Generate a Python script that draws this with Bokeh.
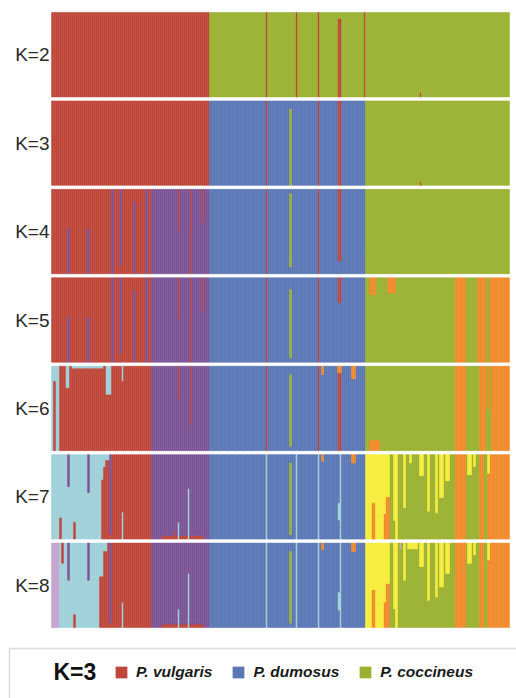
from bokeh.plotting import figure
from bokeh.models import (Range1d, Legend, LegendItem, Label,
                          BoxAnnotation, ColumnDataSource)
from bokeh.core.properties import value
from bokeh.embed import file_html
from bokeh.resources import INLINE

# ---------------- data ----------------
N_INDIVIDUALS = 229
K_VALUES = [2, 3, 4, 5, 6, 7, 8]
K_LABELS = ["K=2", "K=3", "K=4", "K=5", "K=6", "K=7", "K=8"]

CLUSTER_COLORS = {
    "R": "#BE473A",  # red
    "G": "#9AB131",  # green
    "B": "#5B77B4",  # blue
    "P": "#7C5496",  # purple
    "O": "#F08A2A",  # orange
    "L": "#9FD0DA",  # light blue
    "Y": "#F7EC3B",  # yellow
    "V": "#C4A3CF",  # lilac
}

LEGEND_K = 3
LEGEND_TITLE = "K=3"
LEGEND_CLUSTERS = ["R", "B", "G"]
LEGEND_LABELS = ["P. vulgaris", "P. dumosus", "P. coccineus"]

# runs: (first individual, last individual, [(cluster, fraction) bottom -> top]); later runs override
RUNS_K2 = [
    (0, 78, [("R", 1.0)]),
    (79, 228, [("G", 1.0)]),
    (107, 107, [("R", 1.0)]),
    (122, 122, [("R", 1.0)]),
    (133, 133, [("R", 1.0)]),
    (143, 144, [("R", 0.93), ("G", 0.07)]),
    (156, 156, [("R", 1.0)]),
    (184, 184, [("R", 0.05), ("G", 0.95)]),
]
RUNS_K3 = [
    (0, 78, [("R", 1.0)]),
    (79, 156, [("B", 1.0)]),
    (157, 228, [("G", 1.0)]),
    (107, 107, [("R", 1.0)]),
    (119, 119, [("G", 0.9), ("B", 0.1)]),
    (133, 133, [("R", 1.0)]),
    (143, 144, [("R", 1.0)]),
    (184, 184, [("R", 0.04), ("G", 0.96)]),
]
RUNS_K4 = [
    (0, 49, [("R", 1.0)]),
    (50, 78, [("P", 1.0)]),
    (79, 156, [("B", 1.0)]),
    (157, 228, [("G", 1.0)]),
    (8, 8, [("P", 0.53), ("R", 0.47)]),
    (18, 18, [("P", 0.53), ("R", 0.47)]),
    (30, 30, [("P", 1.0)]),
    (34, 34, [("R", 0.1), ("P", 0.9)]),
    (41, 41, [("P", 0.85), ("R", 0.15)]),
    (47, 47, [("P", 1.0)]),
    (63, 63, [("P", 0.5), ("R", 0.5)]),
    (69, 69, [("R", 1.0)]),
    (75, 75, [("P", 0.6), ("R", 0.4)]),
    (107, 107, [("R", 1.0)]),
    (119, 119, [("B", 0.08), ("G", 0.87), ("B", 0.05)]),
    (133, 133, [("R", 1.0)]),
    (143, 144, [("B", 0.15), ("R", 0.85)]),
]
RUNS_K5 = [
    (0, 49, [("R", 1.0)]),
    (50, 78, [("P", 1.0)]),
    (79, 156, [("B", 1.0)]),
    (157, 228, [("G", 1.0)]),
    (8, 8, [("P", 0.53), ("R", 0.47)]),
    (18, 18, [("P", 0.53), ("R", 0.47)]),
    (30, 30, [("P", 1.0)]),
    (34, 34, [("R", 0.1), ("P", 0.9)]),
    (41, 41, [("P", 0.85), ("R", 0.15)]),
    (47, 47, [("P", 1.0)]),
    (63, 63, [("P", 0.5), ("R", 0.5)]),
    (69, 69, [("R", 1.0)]),
    (75, 75, [("P", 0.6), ("R", 0.4)]),
    (107, 107, [("R", 1.0)]),
    (119, 119, [("B", 0.05), ("G", 0.81), ("B", 0.14)]),
    (133, 133, [("R", 1.0)]),
    (143, 144, [("B", 0.7), ("R", 0.3)]),
    (159, 161, [("G", 0.8), ("O", 0.2)]),
    (168, 171, [("G", 0.82), ("O", 0.18)]),
    (202, 206, [("O", 1.0)]),
    (213, 216, [("O", 1.0)]),
    (219, 228, [("O", 1.0)]),
]
RUNS_K6 = [
    (0, 3, [("L", 1.0)]),
    (4, 49, [("R", 1.0)]),
    (50, 78, [("P", 1.0)]),
    (79, 156, [("B", 1.0)]),
    (157, 228, [("G", 1.0)]),
    (1, 1, [("R", 0.82), ("L", 0.18)]),
    (7, 8, [("R", 0.74), ("L", 0.26)]),
    (10, 25, [("R", 0.97), ("L", 0.03)]),
    (27, 29, [("R", 0.66), ("L", 0.34)]),
    (35, 35, [("R", 0.82), ("L", 0.18)]),
    (63, 63, [("P", 0.6), ("R", 0.4)]),
    (69, 69, [("P", 0.3), ("R", 0.7)]),
    (107, 107, [("R", 1.0)]),
    (119, 119, [("B", 0.05), ("G", 0.85), ("B", 0.1)]),
    (133, 133, [("R", 1.0)]),
    (135, 135, [("B", 0.9), ("O", 0.1)]),
    (143, 144, [("R", 0.92), ("O", 0.08)]),
    (150, 151, [("B", 0.85), ("O", 0.15)]),
    (159, 163, [("O", 0.12), ("G", 0.88)]),
    (202, 206, [("O", 1.0)]),
    (214, 216, [("O", 1.0)]),
    (218, 218, [("G", 0.5), ("O", 0.5)]),
    (220, 228, [("O", 1.0)]),
]
RUNS_K7 = [
    (0, 26, [("L", 1.0)]),
    (27, 49, [("R", 1.0)]),
    (50, 78, [("P", 1.0)]),
    (79, 156, [("B", 1.0)]),
    (157, 172, [("Y", 1.0)]),
    (173, 228, [("G", 1.0)]),
    (4, 4, [("R", 0.25), ("L", 0.75)]),
    (8, 8, [("L", 0.62), ("P", 0.38)]),
    (11, 11, [("R", 0.2), ("L", 0.8)]),
    (18, 18, [("L", 0.55), ("P", 0.45)]),
    (25, 25, [("R", 0.7), ("L", 0.3)]),
    (26, 26, [("R", 0.85), ("L", 0.15)]),
    (27, 28, [("R", 0.93), ("L", 0.07)]),
    (29, 29, [("R", 0.05), ("P", 0.95)]),
    (35, 35, [("L", 0.32), ("R", 0.68)]),
    (55, 75, [("R", 0.04), ("P", 0.96)]),
    (61, 61, [("R", 0.1), ("P", 0.9)]),
    (63, 63, [("L", 0.2), ("P", 0.8)]),
    (68, 68, [("L", 0.6), ("P", 0.4)]),
    (107, 107, [("L", 1.0)]),
    (119, 119, [("B", 0.05), ("G", 0.85), ("B", 0.1)]),
    (122, 122, [("L", 1.0)]),
    (133, 133, [("L", 1.0)]),
    (135, 135, [("B", 0.92), ("O", 0.08)]),
    (143, 143, [("B", 0.22), ("L", 0.21), ("B", 0.57)]),
    (144, 144, [("L", 1.0)]),
    (150, 151, [("B", 0.9), ("O", 0.1)]),
    (160, 161, [("O", 0.43), ("Y", 0.57)]),
    (166, 166, [("O", 0.3), ("Y", 0.7)]),
    (167, 168, [("O", 0.5), ("Y", 0.5)]),
    (169, 170, [("G", 1.0)]),
    (171, 171, [("G", 0.22), ("Y", 0.78)]),
    (176, 176, [("G", 0.37), ("Y", 0.63)]),
    (179, 179, [("G", 0.9), ("Y", 0.1)]),
    (184, 185, [("G", 0.75), ("Y", 0.25)]),
    (188, 188, [("G", 0.33), ("Y", 0.67)]),
    (192, 192, [("G", 0.31), ("Y", 0.69)]),
    (194, 195, [("G", 0.49), ("Y", 0.51)]),
    (197, 198, [("G", 0.69), ("Y", 0.31)]),
    (202, 206, [("O", 1.0)]),
    (208, 209, [("G", 0.76), ("Y", 0.24)]),
    (211, 211, [("G", 0.86), ("Y", 0.14)]),
    (214, 228, [("O", 1.0)]),
    (216, 217, [("G", 1.0)]),
    (218, 218, [("O", 0.78), ("Y", 0.22)]),
]
RUNS_K8 = [
    (0, 3, [("V", 1.0)]),
    (4, 25, [("L", 1.0)]),
    (26, 49, [("R", 1.0)]),
    (50, 78, [("P", 1.0)]),
    (79, 156, [("B", 1.0)]),
    (157, 172, [("Y", 1.0)]),
    (173, 228, [("G", 1.0)]),
    (5, 5, [("L", 0.76), ("R", 0.24)]),
    (8, 8, [("L", 0.56), ("P", 0.44)]),
    (11, 11, [("R", 0.15), ("L", 0.85)]),
    (18, 18, [("L", 0.56), ("P", 0.44)]),
    (24, 25, [("R", 0.6), ("L", 0.4)]),
    (26, 27, [("R", 0.9), ("L", 0.1)]),
    (29, 29, [("R", 0.05), ("P", 0.95)]),
    (35, 35, [("L", 0.3), ("R", 0.7)]),
    (55, 75, [("R", 0.04), ("P", 0.96)]),
    (63, 63, [("L", 0.22), ("P", 0.78)]),
    (68, 68, [("L", 0.64), ("P", 0.36)]),
    (107, 107, [("L", 1.0)]),
    (119, 119, [("B", 0.05), ("G", 0.85), ("B", 0.1)]),
    (122, 122, [("L", 1.0)]),
    (133, 133, [("L", 1.0)]),
    (135, 135, [("B", 0.92), ("O", 0.08)]),
    (143, 143, [("B", 0.2), ("L", 0.22), ("B", 0.58)]),
    (144, 144, [("L", 1.0)]),
    (150, 151, [("B", 0.9), ("O", 0.1)]),
    (160, 161, [("O", 0.45), ("Y", 0.55)]),
    (166, 166, [("O", 0.3), ("Y", 0.7)]),
    (167, 168, [("O", 0.52), ("Y", 0.48)]),
    (169, 170, [("G", 1.0)]),
    (171, 171, [("G", 0.22), ("Y", 0.78)]),
    (174, 174, [("G", 0.92), ("V", 0.08)]),
    (176, 176, [("G", 0.56), ("Y", 0.44)]),
    (178, 182, [("G", 0.93), ("Y", 0.07)]),
    (184, 185, [("G", 0.72), ("Y", 0.28)]),
    (188, 188, [("G", 0.32), ("Y", 0.68)]),
    (192, 192, [("G", 0.36), ("Y", 0.64)]),
    (194, 195, [("G", 0.48), ("Y", 0.52)]),
    (197, 198, [("G", 0.64), ("Y", 0.36)]),
    (202, 206, [("O", 1.0)]),
    (208, 209, [("G", 0.76), ("Y", 0.24)]),
    (211, 211, [("G", 0.86), ("Y", 0.14)]),
    (214, 228, [("O", 1.0)]),
    (216, 217, [("G", 1.0)]),
    (218, 218, [("O", 0.8), ("Y", 0.2)]),
]
ALL_RUNS = [RUNS_K2, RUNS_K3, RUNS_K4, RUNS_K5, RUNS_K6, RUNS_K7, RUNS_K8]

# ---------------- layout constants ----------------
W, H = 516, 698
PANEL_H = 0.955
n_panels = len(K_VALUES)
PX_PER_IND = 2.0
BARS_LEFT_PX, BARS_TOP_PX, BARS_BOTTOM_PX = 51, 12, 627
px_per_unit = (BARS_BOTTOM_PX - BARS_TOP_PX) / (n_panels - 1 + PANEL_H)
y_top = n_panels - 1 + PANEL_H / 2 + BARS_TOP_PX / px_per_unit
y_bot = -PANEL_H / 2 - (H - BARS_BOTTOM_PX) / px_per_unit
x_start = -BARS_LEFT_PX / PX_PER_IND
x_end = x_start + W / PX_PER_IND

p = figure(width=W, height=H, output_backend="svg", toolbar_location=None,
           x_range=Range1d(x_start, x_end), y_range=Range1d(y_bot, y_top),
           x_axis_location=None, y_axis_location=None,
           min_border=0, min_border_left=0, min_border_right=0,
           min_border_top=0, min_border_bottom=0)
p.outline_line_color = None
p.xgrid.visible = False
p.ygrid.visible = False
p.background_fill_color = "white"
p.border_fill_color = "white"

legend_renderers = {}
centers = []
for k_idx, (kval, runs) in enumerate(zip(K_VALUES, ALL_RUNS)):
    center = n_panels - 1 - k_idx
    centers.append(center)
    base = center - PANEL_H / 2
    comp = [None] * N_INDIVIDUALS
    for s, e, segs in runs:
        for i in range(s, e + 1):
            comp[i] = segs
    data = {}
    for i, segs in enumerate(comp):
        total = sum(f for _, f in segs)
        cum = 0.0
        for c, f in segs:
            d = data.setdefault(c, {"x": [], "bottom": [], "top": []})
            d["x"].append(i + 0.5)
            d["bottom"].append(base + cum / total * PANEL_H)
            cum += f
            d["top"].append(base + cum / total * PANEL_H)
    for c, d in data.items():
        col = CLUSTER_COLORS[c]
        r = p.vbar(x="x", width=1, bottom="bottom", top="top",
                   source=ColumnDataSource(d), fill_color=col,
                   line_color=col, line_width=0.5)
        if kval == LEGEND_K:
            legend_renderers[c] = r

# K labels left of each panel
p.text(x=[-1.0] * n_panels, y=centers, text=K_LABELS,
       text_align="right", text_baseline="middle",
       text_font=value("Liberation Sans"), text_font_size=value("19px"),
       text_color="#2a2a2a")

# legend box below the panels (screen units measured from frame bottom-left)
box = BoxAnnotation(left=9, right=700, top=50, bottom=-100,
                    left_units="screen", right_units="screen",
                    top_units="screen", bottom_units="screen",
                    fill_alpha=0, line_color="#8c8c8c", line_width=1.5)
p.add_layout(box)

title_label = Label(x=53, y=27, x_units="screen", y_units="screen",
                    text=LEGEND_TITLE, text_font="Liberation Sans",
                    text_font_size="23px", text_font_style="bold",
                    text_baseline="middle", text_color="#111111")
p.add_layout(title_label)

items = [LegendItem(label=lab, renderers=[legend_renderers[c]])
         for c, lab in zip(LEGEND_CLUSTERS, LEGEND_LABELS)]
legend = Legend(items=items, orientation="horizontal", location=(114, 17),
                label_text_font="Liberation Sans", label_text_font_style="bold italic",
                label_text_font_size="15.5px", label_text_color="#1a1a1a",
                glyph_width=14, glyph_height=14, label_standoff=8, spacing=19,
                padding=0, margin=0, border_line_color=None,
                background_fill_alpha=0)
p.add_layout(legend)

open("out.html", "w").write(file_html(p, INLINE))
